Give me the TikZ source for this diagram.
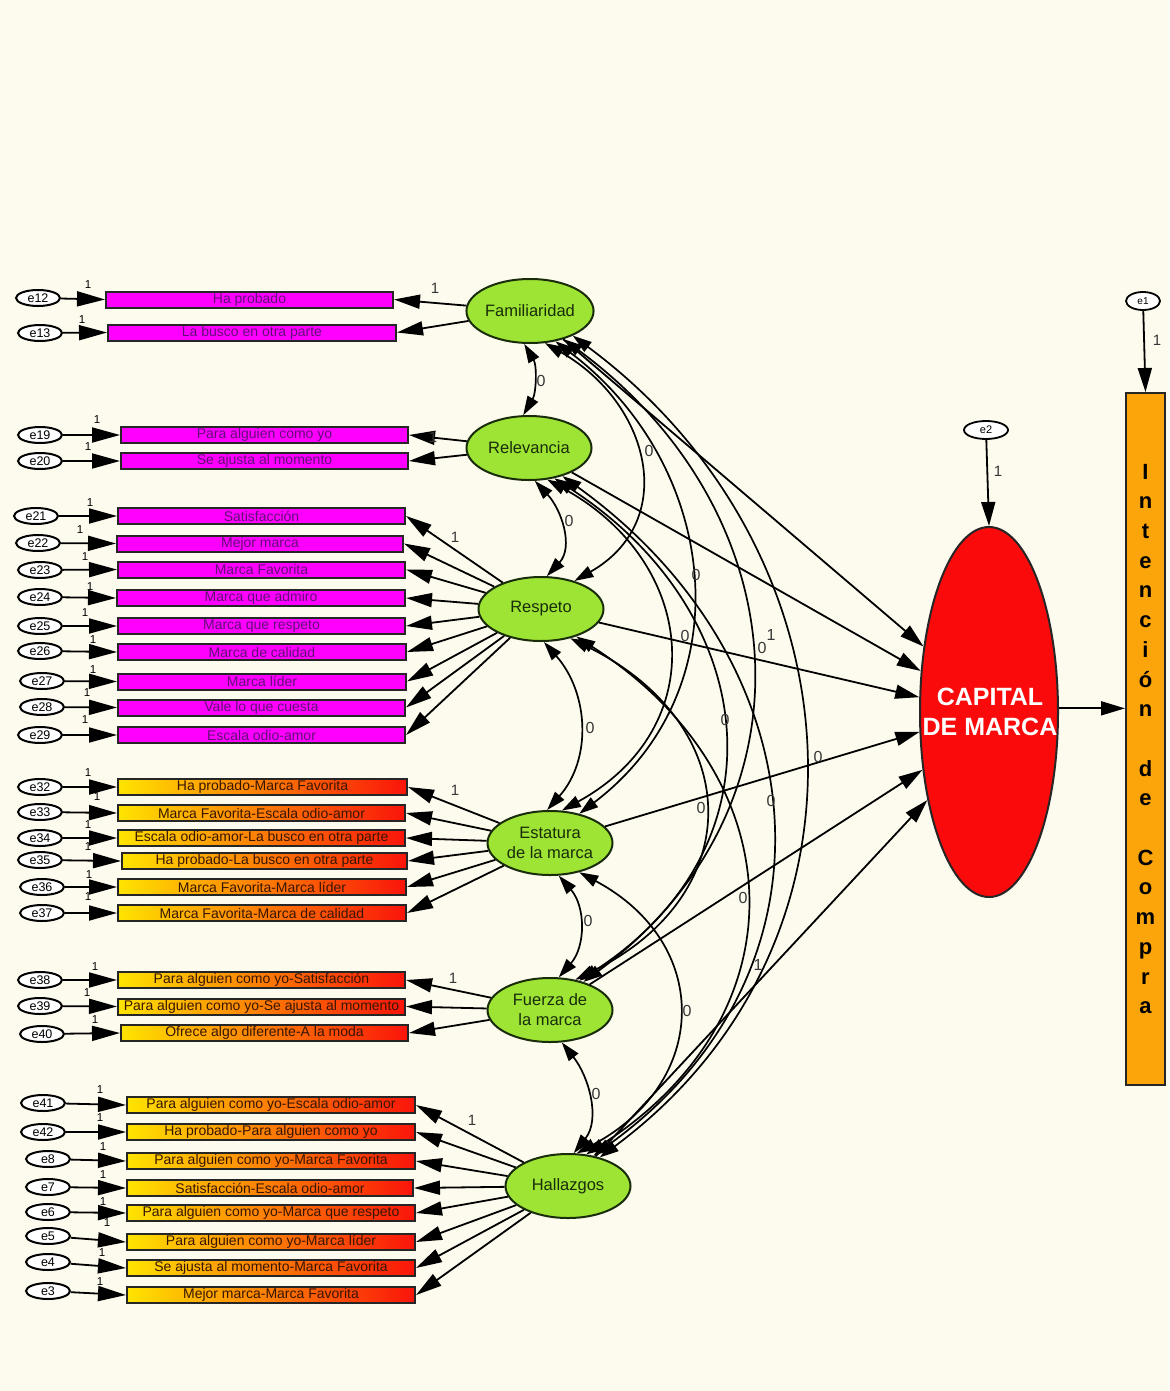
\documentclass[tikz,border=0pt]{standalone}
\usepackage{fontspec}
\setmainfont{Liberation Sans}
\usetikzlibrary{arrows.meta,shapes.geometric}
\definecolor{bgc}{RGB}{253,250,238}
\definecolor{latg}{RGB}{158,228,52}
\definecolor{latd}{RGB}{25,45,10}
\definecolor{magb}{RGB}{255,0,255}
\definecolor{purp}{RGB}{100,15,120}
\definecolor{gyel}{RGB}{255,228,0}
\definecolor{gred}{RGB}{250,20,10}
\definecolor{brn}{RGB}{55,22,0}
\definecolor{capr}{RGB}{250,10,10}
\definecolor{intor}{RGB}{252,165,10}
\definecolor{numc}{RGB}{55,55,55}
\begin{document}
\begin{tikzpicture}[x=1pt,y=-1pt,
  obsM/.style={rectangle, draw=black!85, line width=2pt, fill=magb, text=purp, inner sep=0pt, minimum height=16pt, font=\fontsize{14}{16}\selectfont},
  obsG/.style={rectangle, draw=black!85, line width=2pt, left color=gyel, right color=gred, text=brn, inner sep=0pt, minimum height=16pt, font=\fontsize{14}{16}\selectfont},
  errn/.style={ellipse, draw=black, line width=2pt, fill=white, minimum width=44pt, minimum height=16pt, inner sep=0pt, font=\fontsize{12.5}{14}\selectfont},
  lat/.style={ellipse, draw=latd, line width=2pt, fill=latg, text=latd, minimum width=125pt, minimum height=64pt, inner sep=0pt, align=center, font=\fontsize{16.5}{20}\selectfont},
  erra/.style={line width=1.8pt, -{Triangle[length=28pt,width=15pt]}},
  lda/.style={line width=1.8pt, -{Triangle[length=26pt,width=14pt]}},
  stra/.style={line width=1.8pt, -{Triangle[length=24pt,width=14pt]}},
  cov/.style={line width=1.7pt, {Triangle[length=19pt,width=12pt]}-{Triangle[length=19pt,width=12pt]}},
  num/.style={font=\fontsize{16}{18}\selectfont, text=numc, inner sep=0pt},
  one/.style={font=\fontsize{11.5}{12}\selectfont, text=black, inner sep=0pt},
  ldone/.style={font=\fontsize{15}{16}\selectfont, text=numc, inner sep=0pt}
]
\fill[bgc] (0,0) rectangle (1169,1391);
\useasboundingbox (0,0) rectangle (1169,1391);

% latent factors
\node[lat] (F) at (530,311) {Familiaridad};
\node[lat] (R) at (529,448) {Relevancia};
\node[lat] (S) at (541,609) {Respeto};
\node[lat] (E) at (550,843) {Estatura\\de la marca};
\node[lat] (U) at (550,1010) {Fuerza de\\la marca};
\node[lat] (H) at (568,1186) {Hallazgos};

% observed magenta boxes
\foreach \bid/\bl/\br/\by/\btxt/\bex/\bey/\blx/\bly in {
 12/106/393/299.5/Ha probado/38/298/88/285,
 13/108/396/332.5/La busco en otra parte/40/333/82/320,
 19/121/408/435/Para alguien como yo/40/435/97/420,
 20/121/408/461/Se ajusta al momento/40/461/88/447,
 21/118/405/516/Satisfacción/36/516/90/503,
 22/117/403/543.5/Mejor marca/38/543/80/530,
 23/118/405/569.5/Marca Favorita/40/570/85/557,
 24/117/405/598/Marca que admiro/40/597/90/587,
 25/118/405/626/Marca que respeto/40/626/85/613,
 26/118/406/652/Marca de calidad/40/651/93/640,
 27/118/406/681.5/Marca líder/42/681/93/670,
 28/118/405/707.5/Vale lo que cuesta/42/707/87/693,
 29/118/405/735/Escala odio-amor/40/735/85/720}{
  \pgfmathsetmacro\bw{\br-\bl}
  \pgfmathsetmacro\bcx{(\bl+\br)/2}
  \node[obsM, minimum width=\bw pt] (B\bid) at (\bcx,\by) {\btxt};
  \node[errn] (e\bid) at (\bex,\bey) {e\bid};
  \draw[erra] (e\bid) -- (B\bid.west);
  \node[one] (o\bid) at (\blx,\bly) {1};
}

% observed gradient boxes
\foreach \bid/\bl/\br/\by/\btxt/\bex/\bey/\blx/\bly in {
 32/118/407/787/Ha probado-Marca Favorita/40/787/88/773,
 33/118/405/813/Marca Favorita-Escala odio-amor/40/812/97/797,
 34/118/405/838/Escala odio-amor-La busco en otra parte/40/838/88/825,
 35/122/407/861/Ha probado-La busco en otra parte/40/860/88/847,
 36/118/406/887/Marca Favorita-Marca líder/42/887/89/875,
 37/118/406/913/Marca Favorita-Marca de calidad/42/913/88/897,
 38/118/405/980/Para alguien como yo-Satisfacción/40/980/95/967,
 39/118/405/1006.5/Para alguien como yo-Se ajusta al momento/40/1006/87/993,
 40/121/408/1033/Ofrece algo diferente-A la moda/42/1034/95/1020,
 41/127/415/1105/Para alguien como yo-Escala odio-amor/43/1103/100/1090,
 42/127/415/1132/Ha probado-Para alguien como yo/43/1132/100/1118,
 8/127/415/1161/Para alguien como yo-Marca Favorita/48/1159/103/1147,
 7/127/413/1188/Satisfacción-Escala odio-amor/48/1187/103/1175,
 6/127/415/1213/Para alguien como yo-Marca que respeto/48/1212/103/1202,
 5/127/415/1242/Para alguien como yo-Marca líder/48/1236/107/1223,
 4/127/415/1268/Se ajusta al momento-Marca Favorita/48/1262/102/1253,
 3/127/415/1295/Mejor marca-Marca Favorita/48/1291/100/1282}{
  \pgfmathsetmacro\bw{\br-\bl}
  \pgfmathsetmacro\bcx{(\bl+\br)/2}
  \node[obsG, minimum width=\bw pt] (B\bid) at (\bcx,\by) {\btxt};
  \node[errn] (e\bid) at (\bex,\bey) {e\bid};
  \draw[erra] (e\bid) -- (B\bid.west);
  \node[one] (o\bid) at (\blx,\bly) {1};
}

% loadings
\foreach \b in {12,13} \draw[lda] (F) -- (B\b.east);
\foreach \b in {19,20} \draw[lda] (R) -- (B\b.east);
\foreach \b in {21,...,29} \draw[lda] (S) -- (B\b.east);
\foreach \b in {32,...,37} \draw[lda] (E) -- (B\b.east);
\foreach \b in {38,39,40} \draw[lda] (U) -- (B\b.east);
\foreach \b in {41,42,8,7,6,5,4,3} \draw[lda] (H) -- (B\b.east);
\foreach \i/\px/\py in {F/435/288, R/433/437, S/455/537, E/455/790, U/453/978, H/472/1120}
  \node[ldone] (l\i) at (\px,\py) {1};

% capital de marca and intencion
\node[ellipse, draw=black!85, line width=2pt, fill=capr, minimum width=138pt, minimum height=370pt, inner sep=0pt] (CAP) at (989,712) {};
\node[text=white, font=\bfseries\fontsize{25}{30}\selectfont, align=center, inner sep=0pt] (CAPT) at (990,712) {CAPITAL\\DE MARCA};
\node[rectangle, draw=black!85, line width=2pt, fill=intor, minimum width=39pt, minimum height=692pt, inner sep=0pt, align=center, font=\bfseries\fontsize{22}{29.7}\selectfont] (INT) at (1145.5,739)
 {I\\n\\t\\e\\n\\c\\i\\ó\\n\\~\\d\\e\\~\\C\\o\\m\\p\\r\\a};
\node[ellipse, draw=black, line width=1.8pt, fill=white, minimum width=34pt, minimum height=18pt, inner sep=0pt, font=\fontsize{10}{12}\selectfont] (e1) at (1143,301) {e1};
\node[ellipse, draw=black, line width=1.8pt, fill=white, minimum width=44pt, minimum height=18pt, inner sep=0pt, font=\fontsize{11}{12}\selectfont] (e2) at (986,430) {e2};
\draw[stra] (e1) -- (INT.north);
\draw[stra] (e2) -- (CAP.north);
\node[ldone] (le1) at (1157,340) {1};
\node[ldone] (le2) at (998,471) {1};
\draw[stra] (CAP.3) -- (CAP.3 -| INT.west);

% structural paths
\draw[stra] (F) -- (CAP.135);
\draw[stra] (R) -- (CAP.149);
\draw[stra] (S) -- (CAP.168);
\draw[stra] (E) -- (CAP.196);
\draw[stra] (U) -- (CAP.221);
\draw[stra] (H) -- (CAP.235);

% covariances
\draw[cov] (F.-100) .. controls +(13,22) and +(13,-22) .. (R.100);
\draw[cov] (R.-80) .. controls +(27,29) and +(27,-29) .. (S.80);
\draw[cov] (S.-85) .. controls +(45,51) and +(45,-51) .. (E.95);
\draw[cov] (E.-75) .. controls +(27,31) and +(27,-31) .. (U.75);
\draw[cov] (U.-70) .. controls +(27,34) and +(27,-34) .. (H.80);
\draw[cov] (F.-65) .. controls +(105,60) and +(105,-60) .. (S.40);
\draw[cov] (R.-60) .. controls +(151,83) and +(151,-83) .. (E.70);
\draw[cov] (S.-45) .. controls +(175,86) and +(175,-86) .. (U.50);
\draw[cov] (E.-45) .. controls +(133,71) and +(133,-71) .. (H.75);
\draw[cov] (F.-50) .. controls +(165,125) and +(165,-125) .. (E.45);
\draw[cov] (R.-50) .. controls +(208,135) and +(208,-135) .. (U.45);
\draw[cov] (S.-38) .. controls +(219,140) and +(219,-140) .. (H.60);
\draw[cov] (F.-40) .. controls +(237,175) and +(237,-175) .. (U.40);
\draw[cov] (R.-40) .. controls +(257,185) and +(257,-185) .. (H.50);
\draw[cov] (F.-30) .. controls +(290,215) and +(290,-215) .. (H.42);

% parameter labels
\foreach \i/\px/\py/\v in {1/541/381/0, 2/569/521/0, 3/590/728/0, 4/588/921/0, 5/596/1094/0,
  6/649/451/0, 7/696/575/0, 8/685/636/0, 9/762/648/0, 10/771/635/1, 11/725/720/0,
  12/701/808/0, 13/818/757/0, 14/771/801/0, 15/743/898/0, 16/687/1011/0, 17/758/965/1}
  \node[num] (n\i) at (\px,\py) {\v};
\end{tikzpicture}
\end{document}
